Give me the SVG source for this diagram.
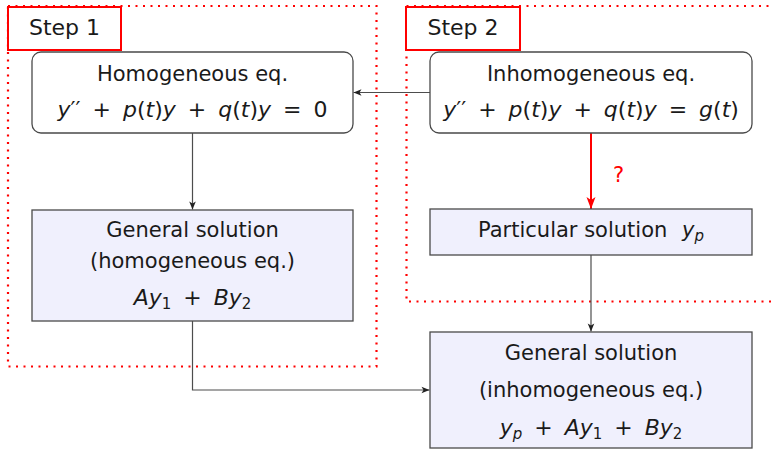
<svg xmlns="http://www.w3.org/2000/svg" width="773" height="450" viewBox="0 0 773 450">
<defs>
<style>
.t{font-family:"DejaVu Sans","Liberation Sans",sans-serif;font-size:21px;fill:#1a1a1a;text-anchor:middle}
.m{word-spacing:5px;font-size:22px}
.i{font-style:italic}
.s{font-size:15px}
.box{fill:#ffffff;stroke:#4a4a4a;stroke-width:1.3}
.sol{fill:#f0f0fd;stroke:#4a4a4a;stroke-width:1.3}
.region{fill:none;stroke:#ff0000;stroke-width:2.2;stroke-dasharray:2 5.5}
.tag{fill:#ffffff;stroke:#ff0000;stroke-width:2}
.conn{fill:none;stroke:#4d4d4d;stroke-width:1.2}
.red{fill:none;stroke:#ff0000;stroke-width:2}
</style>
<marker id="ah" markerUnits="userSpaceOnUse" markerWidth="10" markerHeight="8" viewBox="-9 -4 10 8" refX="0" refY="0" orient="auto">
<path d="M-8,-3.3 L0,0 L-8,3.3 L-6,0 Z" fill="#222"/>
</marker>
<marker id="ahr" markerUnits="userSpaceOnUse" markerWidth="14" markerHeight="10" viewBox="-13 -5 14 10" refX="0" refY="0" orient="auto">
<path d="M-12,-4.5 L0,0 L-12,4.5 L-9,0 Z" fill="#ff0000"/>
</marker>
</defs>
<rect width="773" height="450" fill="#ffffff"/>

<g id="regions">
<rect class="region" x="8" y="6" width="368.5" height="360.5"/>
<path class="region" d="M776,6 H406.5 V301.5 H776"/>
</g>

<g id="step1">
<rect class="tag" x="8" y="7" width="113" height="43"/>
<text class="t" x="64.5" y="35" style="font-size:22px">Step 1</text>
</g>
<g id="step2">
<rect class="tag" x="406" y="7" width="114" height="43"/>
<text class="t" x="463" y="35" style="font-size:22px">Step 2</text>
</g>

<g id="connectors">
<line class="conn" x1="430" y1="92.5" x2="353.5" y2="92.5" marker-end="url(#ah)"/>
<line class="conn" x1="192.5" y1="133" x2="192.5" y2="209.5" marker-end="url(#ah)"/>
<line class="red" x1="591" y1="133" x2="591" y2="209" marker-end="url(#ahr)"/>
<text x="618.5" y="182" style="font-family:'DejaVu Sans','Liberation Sans',sans-serif;font-size:21px;fill:#ff0000;text-anchor:middle">?</text>
<line class="conn" x1="591" y1="255" x2="591" y2="331.5" marker-end="url(#ah)"/>
<path class="conn" d="M192.5,321 V390 H429.5" marker-end="url(#ah)"/>
</g>

<g id="homogeneous">
<rect class="box" x="32" y="52" width="321" height="81" rx="9"/>
<text class="t" x="192.5" y="81">Homogeneous eq.</text>
<text class="t m" x="192.5" y="117"><tspan class="i">y</tspan>′′ + <tspan class="i">p</tspan>(<tspan class="i">t</tspan>)<tspan class="i">y</tspan> + <tspan class="i">q</tspan>(<tspan class="i">t</tspan>)<tspan class="i">y</tspan> = 0</text>
</g>

<g id="inhomogeneous">
<rect class="box" x="430" y="52" width="322" height="81" rx="9"/>
<text class="t" x="591" y="81">Inhomogeneous eq.</text>
<text class="t m" x="591" y="117"><tspan class="i">y</tspan>′′ + <tspan class="i">p</tspan>(<tspan class="i">t</tspan>)<tspan class="i">y</tspan> + <tspan class="i">q</tspan>(<tspan class="i">t</tspan>)<tspan class="i">y</tspan> = <tspan class="i">g</tspan>(<tspan class="i">t</tspan>)</text>
</g>

<g id="general-homogeneous">
<rect class="sol" x="32" y="210" width="321" height="111"/>
<text class="t" x="192.5" y="237">General solution</text>
<text class="t" x="192.5" y="268">(homogeneous eq.)</text>
<text class="t m" x="192.5" y="305"><tspan class="i">Ay</tspan><tspan class="s" dy="4">1</tspan><tspan dy="-4"> + </tspan><tspan class="i">By</tspan><tspan class="s" dy="4">2</tspan></text>
</g>

<g id="particular">
<rect class="sol" x="430" y="209" width="322" height="46"/>
<text class="t" x="591" y="237">Particular solution <tspan class="i" dx="8">y</tspan><tspan class="s i" dy="4">p</tspan></text>
</g>

<g id="general-inhomogeneous">
<rect class="sol" x="430" y="332" width="322" height="116"/>
<text class="t" x="591" y="360">General solution</text>
<text class="t" x="591" y="397">(inhomogeneous eq.)</text>
<text class="t m" x="591" y="435"><tspan class="i">y</tspan><tspan class="s i" dy="4">p</tspan><tspan dy="-4"> + </tspan><tspan class="i">Ay</tspan><tspan class="s" dy="4">1</tspan><tspan dy="-4"> + </tspan><tspan class="i">By</tspan><tspan class="s" dy="4">2</tspan></text>
</g>
</svg>
